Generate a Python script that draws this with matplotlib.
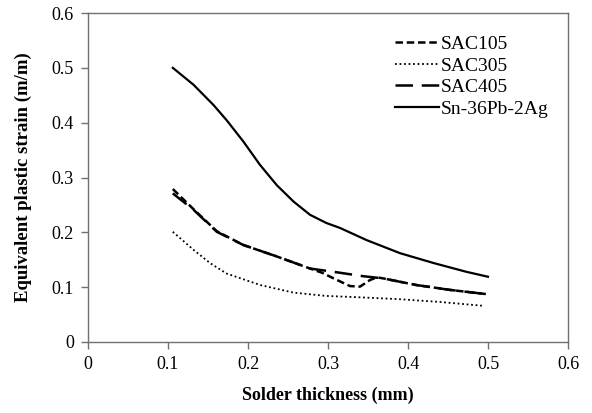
import matplotlib
matplotlib.use('Agg')
import matplotlib.pyplot as plt

plt.rcParams['font.family'] = ['Liberation Serif', 'DejaVu Serif']

# values
x_sn = [0.106, 0.132, 0.157, 0.173, 0.194, 0.215, 0.236, 0.257, 0.2775, 0.298, 0.315,
        0.348, 0.39, 0.432, 0.473, 0.5]
y_sn = [0.500, 0.469, 0.432, 0.405, 0.366, 0.323, 0.286, 0.256, 0.232, 0.217, 0.208,
        0.186, 0.162, 0.144, 0.128, 0.119]

x_305 = [0.106, 0.132, 0.1525, 0.173, 0.215, 0.257, 0.298, 0.34, 0.39, 0.44, 0.494]
y_305 = [0.201, 0.168, 0.144, 0.125, 0.104, 0.090, 0.084, 0.0815, 0.078, 0.073, 0.066]

x_405 = [0.106, 0.132, 0.161, 0.194, 0.236, 0.2775, 0.307, 0.344, 0.369, 0.41, 0.4525, 0.5]
y_405 = [0.271, 0.241, 0.201, 0.177, 0.156, 0.134, 0.128, 0.120, 0.116, 0.104, 0.095, 0.087]

x_105 = [0.106, 0.132, 0.161, 0.194, 0.236, 0.2775, 0.293, 0.307, 0.3275, 0.34, 0.3525,
         0.361, 0.369, 0.41, 0.4525, 0.5]
y_105 = [0.279, 0.242, 0.202, 0.177, 0.156, 0.134, 0.126, 0.116, 0.102, 0.101, 0.113,
         0.118, 0.116, 0.104, 0.095, 0.087]

x_ticks = [0, 0.1, 0.2, 0.3, 0.4, 0.5, 0.6]
y_ticks = [0, 0.1, 0.2, 0.3, 0.4, 0.5, 0.6]

fig = plt.figure(figsize=(5.92, 4.13), dpi=100)
ax = fig.add_axes([88 / 592, 1 - 342 / 413, 480 / 592, 329 / 413])

ax.plot(x_105, y_105, color='black', linestyle=(0, (3, 1.5)), linewidth=1.8, label='SAC105')
ax.plot(x_305, y_305, color='black', linestyle=(0, (1, 1.5)), linewidth=1.3, label='SAC305')
ax.plot(x_405, y_405, color='black', linestyle=(0, (7, 3.5)), linewidth=1.8, label='SAC405')
ax.plot(x_sn, y_sn, color='black', linestyle='-', linewidth=1.6, label='Sn-36Pb-2Ag')

ax.set_xlim(0, 0.6)
ax.set_ylim(0, 0.6)
ax.set_xticks(x_ticks)
ax.set_yticks(y_ticks)
ax.set_xticklabels(['0', '0.1', '0.2', '0.3', '0.4', '0.5', '0.6'])
ax.set_yticklabels(['0', '0.1', '0.2', '0.3', '0.4', '0.5', '0.6'])
ax.tick_params(axis='both', labelsize=13, color='#707070', length=5, width=1)
ax.tick_params(axis='x', direction='out', pad=5)
ax.tick_params(axis='y', direction='out', pad=5)
for s in ax.spines.values():
    s.set_color('#707070')
    s.set_linewidth(1)

ax.set_xlabel('Solder thickness (mm)', fontsize=13, fontweight='bold', labelpad=10)
ax.set_ylabel('Equivalent plastic strain (m/m)', fontsize=13.5, fontweight='bold', labelpad=14)

ax.legend(loc='upper right', bbox_to_anchor=(0.995, 0.985), frameon=False, fontsize=14,
          handlelength=2.3, handletextpad=0.05, labelspacing=0.2)

plt.savefig('out.png', dpi=100)
